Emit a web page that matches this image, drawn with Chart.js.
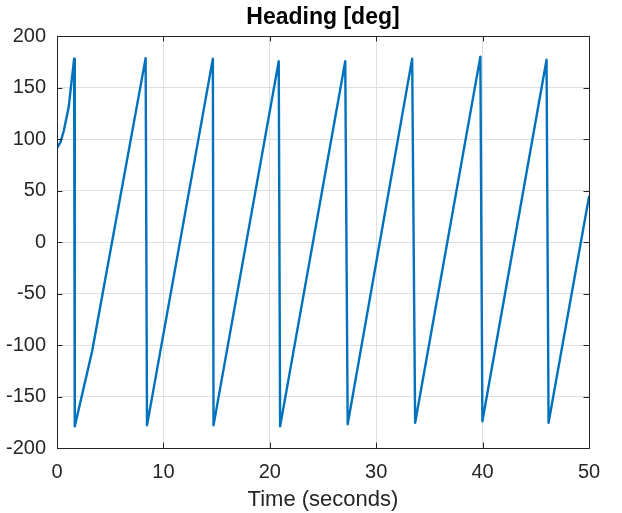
<!DOCTYPE html>
<html>
<head>
<meta charset="utf-8">
<script src="https://cdn.jsdelivr.net/npm/chart.js@4.4.1/dist/chart.umd.min.js"></script>
<style>
  html, body { margin: 0; padding: 0; background: #fff; }
  #wrap { width: 622px; height: 513px; }
</style>
</head>
<body>
<div id="wrap"><canvas id="grafico"></canvas></div>
<script>
// tempo (s) e heading (deg)
const tempo = [0, 0.33, 0.64, 1.1, 1.61, 1.67, 3.3, 8.33, 8.46, 14.65, 14.71, 20.84, 20.97,
    27.09, 27.32, 33.38, 33.66, 39.79, 39.98, 46.01, 46.2, 50];
const heading = [91, 97, 108, 131, 178, -179, -106, 178.5, -178, 178, -178, 175.5, -179,
    175.5, -177, 178, -175.5, 180, -174, 177, -175.5, 44];
const xTicks = [0, 10, 20, 30, 40, 50];
const yTicks = [-200, -150, -100, -50, 0, 50, 100, 150, 200];

const fonte = "'Liberation Sans', Arial, Helvetica, sans-serif";
const corEixo = '#262626';

// caixa e ticks para dentro, estilo matlab
const caixaPlugin = {
    id: 'caixa',
    afterDatasetsDraw(chart) {
        const ctx = chart.ctx;
        const a = chart.chartArea;
        const sx = chart.scales.x;
        const sy = chart.scales.y;
        const len = 5.5;
        ctx.save();
        ctx.strokeStyle = corEixo;
        ctx.lineWidth = 1;
        ctx.beginPath();
        xTicks.forEach(v => {
            const px = Math.round(sx.getPixelForValue(v)) + 0.5;
            ctx.moveTo(px, a.bottom); ctx.lineTo(px, a.bottom - len);
            ctx.moveTo(px, a.top); ctx.lineTo(px, a.top + len);
        });
        yTicks.forEach(v => {
            const py = Math.round(sy.getPixelForValue(v)) + 0.5;
            ctx.moveTo(a.left, py); ctx.lineTo(a.left + len, py);
            ctx.moveTo(a.right, py); ctx.lineTo(a.right - len, py);
        });
        ctx.stroke();
        ctx.strokeRect(Math.round(a.left) + 0.5, Math.round(a.top) + 0.5,
            Math.round(a.right - a.left), Math.round(a.bottom - a.top));
        ctx.restore();
    }
};

const grafico = document.getElementById('grafico');

new Chart(grafico, {
    type: 'line',
    data: {
        datasets: [{
            label: 'Heading',
            data: tempo.map((t, i) => ({ x: t, y: heading[i] })),
            borderColor: '#0072BD',
            backgroundColor: '#0072BD',
            borderWidth: 2.4,
            borderJoinStyle: 'round',
            borderCapStyle: 'round',
            pointRadius: 0,
            tension: 0
        }]
    },
    plugins: [caixaPlugin],
    options: {
        responsive: true,
        maintainAspectRatio: false,
        animation: false,
        layout: { padding: { left: 0, right: 33, top: 0, bottom: 0 } },
        plugins: {
            legend: { display: false },
            tooltip: { enabled: false },
            title: {
                display: true,
                fullSize: false,
                text: 'Heading [deg]',
                color: '#000',
                font: { family: fonte, size: 23, weight: 'bold' },
                padding: { top: 4, bottom: 4.4 }
            }
        },
        scales: {
            x: {
                type: 'linear',
                min: 0,
                max: 50,
                afterFit(scale) { scale.height = 65; },
                afterBuildTicks(scale) { scale.ticks = xTicks.map(v => ({ value: v })); },
                grid: { color: '#dfdfdf', drawTicks: false },
                border: { display: false },
                ticks: {
                    color: corEixo,
                    padding: 12,
                    maxRotation: 0,
                    font: { family: fonte, size: 20 }
                },
                title: {
                    display: true,
                    text: 'Time (seconds)',
                    color: corEixo,
                    font: { family: fonte, size: 22 },
                    padding: { top: 0, bottom: 0 }
                }
            },
            y: {
                min: -200,
                max: 200,
                afterFit(scale) { scale.width = 57; },
                afterBuildTicks(scale) { scale.ticks = yTicks.map(v => ({ value: v })); },
                grid: { color: '#dfdfdf', drawTicks: false },
                border: { display: false },
                ticks: {
                    color: corEixo,
                    padding: 11,
                    font: { family: fonte, size: 20 }
                }
            }
        }
    }
});
</script>
</body>
</html>
